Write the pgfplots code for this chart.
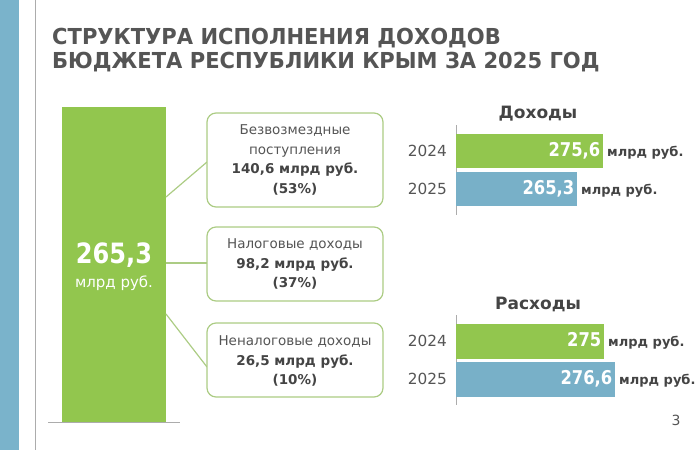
\documentclass[border=0pt]{standalone}
\usepackage{pgfplots}
\pgfplotsset{compat=1.18}
\usepackage{fontspec}
\setmainfont{DejaVu Sans}
\newfontfamily\titlefont[FakeStretch=0.957]{DejaVu Sans}
\newfontfamily\condfont[FakeStretch=0.86]{DejaVu Sans}
\definecolor{sgreen}{RGB}{146,198,78}
\definecolor{sblue}{RGB}{120,176,200}
\definecolor{stripe}{RGB}{122,179,203}
\definecolor{boxgreen}{RGB}{172,204,132}
\definecolor{tgray}{RGB}{85,85,85}
\definecolor{dgray}{RGB}{68,68,68}
\definecolor{lgray}{RGB}{172,172,172}
\begin{document}
\begin{tikzpicture}
\path[use as bounding box] (0pt,0pt) rectangle (700pt,-450pt);
\fill[stripe] (0pt,0pt) rectangle (19pt,-450pt);
\draw[lgray, line width=1.2pt] (35.5pt,0pt) -- (35.5pt,-450pt);
\node[anchor=base west, inner sep=0pt, text=tgray, font=\titlefont\bfseries\fontsize{22}{24}\selectfont] at (52pt,-44pt) {СТРУКТУРА ИСПОЛНЕНИЯ ДОХОДОВ};
\node[anchor=base west, inner sep=0pt, text=tgray, font=\titlefont\bfseries\fontsize{22}{24}\selectfont] at (52pt,-68pt) {БЮДЖЕТА РЕСПУБЛИКИ КРЫМ ЗА 2025 ГОД};

% left big bar
\begin{axis}[at={(48pt,-422pt)}, anchor=south west, scale only axis,
  width=132pt, height=315pt, xmin=-1, xmax=1, ymin=0, ymax=265.3,
  axis lines=none, ybar, bar width=104pt, bar shift=0pt,
  enlargelimits=false, clip=false]
\addplot[fill=sgreen, draw=none] coordinates {(0,265.3)};
\draw[lgray, line width=1pt] (rel axis cs:0,0) -- (rel axis cs:1,0);
\end{axis}
\node[text=white, font=\condfont\bfseries\fontsize{28}{28}\selectfont] at (114pt,-255pt) {265,3};
\node[text=white, font=\fontsize{15}{15}\selectfont] at (114pt,-283pt) {млрд руб.};

% boxes
\draw[boxgreen, line width=1.2pt] (166pt,-197pt) -- (207pt,-162pt);
\draw[boxgreen, line width=1.2pt] (166pt,-263pt) -- (207pt,-263pt);
\draw[boxgreen, line width=1.2pt] (166pt,-314pt) -- (207pt,-367pt);
\draw[boxgreen, line width=1.2pt, rounded corners=9pt, fill=white] (207pt,-113pt) rectangle (383pt,-207pt);
\draw[boxgreen, line width=1.2pt, rounded corners=9pt, fill=white] (207pt,-227pt) rectangle (383pt,-301pt);
\draw[boxgreen, line width=1.2pt, rounded corners=9pt, fill=white] (207pt,-323pt) rectangle (383pt,-397pt);
\node[align=center, text=tgray, font=\fontsize{13.5}{19.5}\selectfont] at (295pt,-160pt)
  {Безвозмездные\\поступления\\\textcolor{dgray}{\bfseries 140,6 млрд руб.}\\\textcolor{dgray}{\bfseries (53\%)}};
\node[align=center, text=tgray, font=\fontsize{13.5}{19.5}\selectfont] at (295pt,-264pt)
  {Налоговые доходы\\\textcolor{dgray}{\bfseries 98,2 млрд руб.}\\\textcolor{dgray}{\bfseries (37\%)}};
\node[align=center, text=tgray, font=\fontsize{13.5}{19.5}\selectfont] at (295pt,-361pt)
  {Неналоговые доходы\\\textcolor{dgray}{\bfseries 26,5 млрд руб.}\\\textcolor{dgray}{\bfseries (10\%)}};

\pgfplotsset{rbar/.style={anchor=south west, scale only axis,
  width=200pt, height=90pt, ymin=-0.684, ymax=1.684, y dir=reverse,
  xbar, bar width=34pt, bar shift=0pt,
  hide x axis, axis y line*=left,
  axis line style={lgray, line width=0.9pt},
  ytick={0,1}, yticklabels={2024,2025}, major tick length=0pt,
  yticklabel style={font=\fontsize{15.3}{15}\selectfont, text=tgray, inner sep=0pt, xshift=-9pt},
  xtick=\empty, clip=false, point meta=explicit symbolic,
  nodes near coords={\llap{\condfont\bfseries\fontsize{19}{19}\selectfont\textcolor{white}{\pgfplotspointmeta}\hspace{3pt}}\hspace{4pt}\textcolor{dgray}{\bfseries\fontsize{13}{13}\selectfont млрд руб.}},
  every node near coord/.append style={anchor=west, inner sep=0pt}}}

% Доходы
\node[text=dgray, font=\bfseries\fontsize{17}{17}\selectfont] at (538pt,-114pt) {Доходы};
\begin{axis}[rbar, at={(456pt,-215pt)}, xmin=217.36, xmax=296.6]
\addplot[fill=sgreen, draw=none] coordinates {(275.6,0) [275,6]};
\addplot[fill=sblue, draw=none] coordinates {(265.3,1) [265,3]};
\end{axis}

% Расходы
\node[text=dgray, font=\bfseries\fontsize{17}{17}\selectfont] at (538pt,-304pt) {Расходы};
\begin{axis}[rbar, at={(456pt,-405pt)}, xmin=253.47, xmax=282.56, bar width=35pt]
\addplot[fill=sgreen, draw=none] coordinates {(275,0) [275]};
\addplot[fill=sblue, draw=none] coordinates {(276.6,1) [276,6]};
\end{axis}

\node[text=tgray, font=\fontsize{14}{14}\selectfont] at (676pt,-420pt) {3};
\end{tikzpicture}
\end{document}
